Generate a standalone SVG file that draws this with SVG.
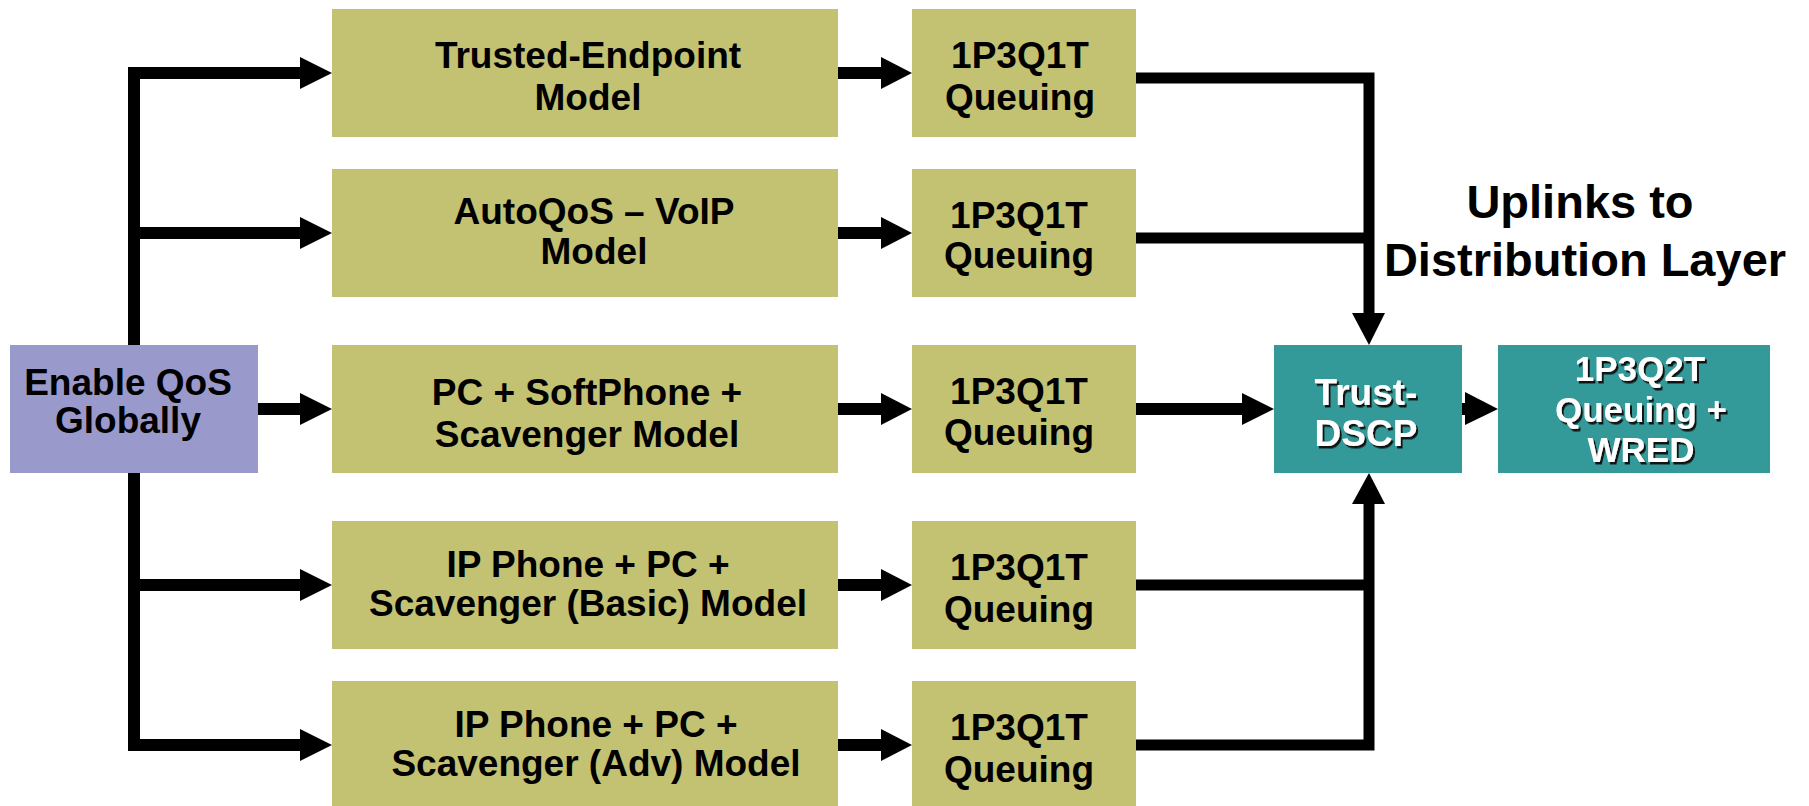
<svg xmlns="http://www.w3.org/2000/svg" width="1809" height="806" viewBox="0 0 1809 806">
  <defs>
    <style>
      .olive { fill: #C3C172; }
      .lilac { fill: #9999CC; }
      .teal { fill: #339999; }
      .lbl { font-family: "Liberation Sans", Arial, Helvetica, sans-serif; font-weight: bold; font-size: 37px; fill: #000; text-anchor: middle; }
      .lbl-w { font-family: "Liberation Sans", Arial, Helvetica, sans-serif; font-weight: bold; fill: #fff; text-anchor: middle; filter: url(#shadow); }
      .title { font-family: "Liberation Sans", Arial, Helvetica, sans-serif; font-weight: bold; font-size: 47px; fill: #000; text-anchor: middle; }
      .wire { fill: none; stroke: #000; stroke-width: 12; stroke-linejoin: miter; }
      .wire-thin { fill: none; stroke: #000; stroke-width: 11; stroke-linejoin: miter; }
      .head { fill: #000; }
    </style>
    <filter id="shadow" x="-10%" y="-10%" width="130%" height="140%">
      <feDropShadow dx="2" dy="2.5" stdDeviation="0.4" flood-color="#111" flood-opacity="0.95"/>
    </filter>
  </defs>

  <rect width="1809" height="806" fill="#fff"/>

  <!-- connectors -->
  <g id="connectors">
    <!-- fan-out from Enable QoS Globally -->
    <path class="wire" d="M300 73 H134 V745 H300"/>
    <path class="wire" d="M134 233 H300"/>
    <path class="wire" d="M134 585 H300"/>
    <path class="wire" d="M258 409 H300"/>
    <polygon class="head" points="300,57 332,73 300,89"/>
    <polygon class="head" points="300,217 332,233 300,249"/>
    <polygon class="head" points="300,393 332,409 300,425"/>
    <polygon class="head" points="300,569 332,585 300,601"/>
    <polygon class="head" points="300,729 332,745 300,761"/>

    <!-- model to queuing -->
    <path class="wire" d="M838 73 H882"/>
    <path class="wire" d="M838 233 H882"/>
    <path class="wire" d="M838 409 H882"/>
    <path class="wire" d="M838 585 H882"/>
    <path class="wire" d="M838 745 H882"/>
    <polygon class="head" points="881,57 912,73 881,89"/>
    <polygon class="head" points="881,217 912,233 881,249"/>
    <polygon class="head" points="881,393 912,409 881,425"/>
    <polygon class="head" points="881,569 912,585 881,601"/>
    <polygon class="head" points="881,729 912,745 881,761"/>

    <!-- uplinks into Trust-DSCP -->
    <path class="wire-thin" d="M1136 78 H1369 V314"/>
    <path class="wire-thin" d="M1136 238 H1369"/>
    <polygon class="head" points="1352,313 1369,345 1385,313"/>
    <path class="wire-thin" d="M1136 745 H1369 V503"/>
    <path class="wire-thin" d="M1136 585 H1369"/>
    <polygon class="head" points="1352,504 1369,473 1385,504"/>
    <path class="wire" d="M1136 409 H1243"/>
    <polygon class="head" points="1242,393 1274,409 1242,425"/>

    <!-- Trust-DSCP to 1P3Q2T -->
    <path class="wire" d="M1461 409 H1466"/>
    <polygon class="head" points="1465,392 1498,409 1465,425"/>
  </g>

  <g id="enable-qos">
    <rect class="lilac" x="10" y="345" width="248" height="128"/>
    <text class="lbl" x="128" y="395">Enable QoS</text>
    <text class="lbl" x="128" y="433">Globally</text>
  </g>

  <g id="model-trusted-endpoint">
    <rect class="olive" x="332" y="9" width="506" height="128"/>
    <text class="lbl" x="588" y="68">Trusted-Endpoint</text>
    <text class="lbl" x="588" y="110">Model</text>
  </g>

  <g id="model-autoqos-voip">
    <rect class="olive" x="332" y="169" width="506" height="128"/>
    <text class="lbl" x="594" y="224">AutoQoS – VoIP</text>
    <text class="lbl" x="594" y="264">Model</text>
  </g>

  <g id="model-pc-softphone">
    <rect class="olive" x="332" y="345" width="506" height="128"/>
    <text class="lbl" x="587" y="405">PC + SoftPhone +</text>
    <text class="lbl" x="587" y="446.5">Scavenger Model</text>
  </g>

  <g id="model-ipphone-basic">
    <rect class="olive" x="332" y="521" width="506" height="128"/>
    <text class="lbl" x="588" y="576.5">IP Phone + PC +</text>
    <text class="lbl" x="588" y="616">Scavenger (Basic) Model</text>
  </g>

  <g id="model-ipphone-adv">
    <rect class="olive" x="332" y="681" width="506" height="125"/>
    <text class="lbl" x="596" y="736.5">IP Phone + PC +</text>
    <text class="lbl" x="596" y="775.5">Scavenger (Adv) Model</text>
  </g>

  <g id="queue-1">
    <rect class="olive" x="912" y="9" width="224" height="128"/>
    <text class="lbl" x="1020" y="68.3">1P3Q1T</text>
    <text class="lbl" x="1020" y="110">Queuing</text>
  </g>

  <g id="queue-2">
    <rect class="olive" x="912" y="169" width="224" height="128"/>
    <text class="lbl" x="1019" y="228.3">1P3Q1T</text>
    <text class="lbl" x="1019" y="268">Queuing</text>
  </g>

  <g id="queue-3">
    <rect class="olive" x="912" y="345" width="224" height="128"/>
    <text class="lbl" x="1019" y="404.3">1P3Q1T</text>
    <text class="lbl" x="1019" y="445">Queuing</text>
  </g>

  <g id="queue-4">
    <rect class="olive" x="912" y="521" width="224" height="128"/>
    <text class="lbl" x="1019" y="580">1P3Q1T</text>
    <text class="lbl" x="1019" y="621.5">Queuing</text>
  </g>

  <g id="queue-5">
    <rect class="olive" x="912" y="681" width="224" height="125"/>
    <text class="lbl" x="1019" y="740">1P3Q1T</text>
    <text class="lbl" x="1019" y="781.5">Queuing</text>
  </g>

  <g id="trust-dscp">
    <rect class="teal" x="1274" y="345" width="188" height="128"/>
    <text class="lbl-w" x="1366" y="405" font-size="37">Trust-</text>
    <text class="lbl-w" x="1366" y="445.5" font-size="37">DSCP</text>
  </g>

  <g id="queue-uplink">
    <rect class="teal" x="1498" y="345" width="272" height="128"/>
    <text class="lbl-w" x="1640" y="380.5" font-size="35">1P3Q2T</text>
    <text class="lbl-w" x="1641" y="421.5" font-size="35">Queuing +</text>
    <text class="lbl-w" x="1641" y="462" font-size="35">WRED</text>
  </g>

  <g id="uplinks-label">
    <text class="title" x="1580" y="218">Uplinks to</text>
    <text class="title" x="1585" y="276">Distribution Layer</text>
  </g>
</svg>
